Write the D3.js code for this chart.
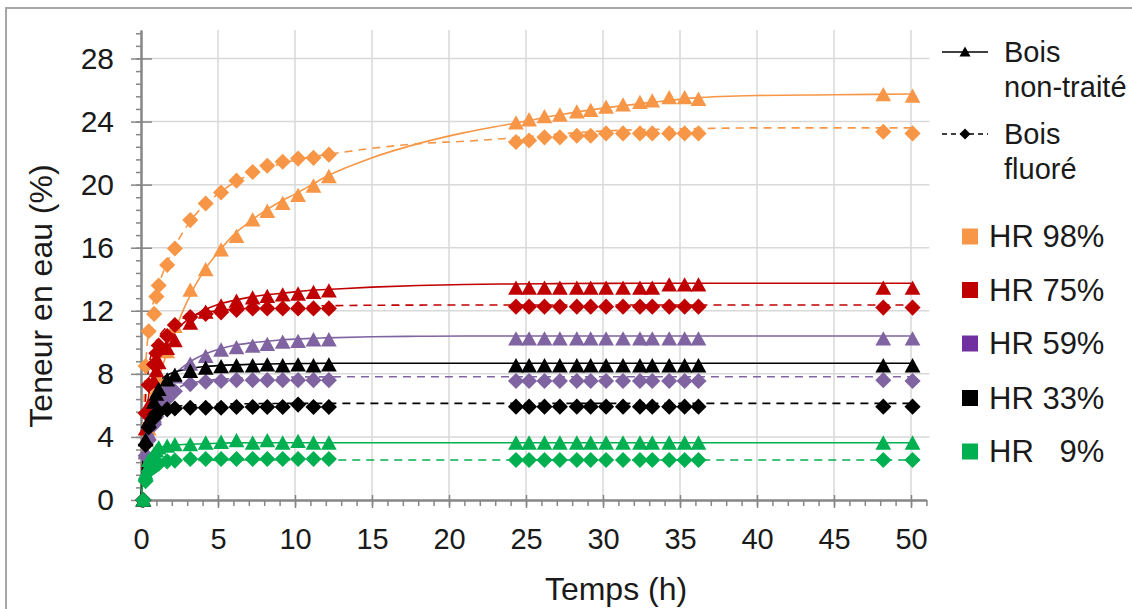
<!DOCTYPE html>
<html><head><meta charset="utf-8">
<script src="https://cdn.jsdelivr.net/npm/d3@7/dist/d3.min.js"></script>
<style>
html,body{margin:0;padding:0;background:#fff;}
svg{display:block;font-family:"Liberation Sans",Arial,sans-serif;}
</style></head>
<body><svg id="chart" width="1132" height="609"></svg>
<script>
// ---------- DATA ----------
const times = [0.15, 0.3, 0.5, 0.85, 1.0, 1.15, 1.7, 2.2, 3.2, 4.2, 5.2, 6.2, 7.25, 8.2, 9.2, 10.2, 11.2, 12.2,
  24.35, 25.2, 26.2, 27.2, 28.3, 29.2, 30.2, 31.3, 32.4, 33.2, 34.3, 35.3, 36.2, 48.2, 50.1];

const nt98 = [0, 3.0, 4.5, 6.3, 7.0, 7.6, 9.4, 11.0, 13.3, 14.6, 15.85, 16.7, 17.75, 18.3, 18.8, 19.3, 19.9, 20.5,
  23.9, 24.1, 24.3, 24.4, 24.6, 24.7, 24.9, 25.05, 25.2, 25.3, 25.5, 25.5, 25.4, 25.7, 25.6];
const f98 = [0, 8.5, 10.7, 11.8, 12.9, 13.6, 14.9, 15.95, 17.75, 18.8, 19.5, 20.25, 20.8, 21.2, 21.45, 21.65, 21.7, 21.9,
  22.7, 22.8, 23.0, 23.0, 23.1, 23.1, 23.25, 23.25, 23.25, 23.25, 23.25, 23.25, 23.25, 23.35, 23.25];
const nt75 = [0, 4.5, 6.0, 7.5, 8.2, 8.7, 9.6, 10.1, 11.2, 11.9, 12.3, 12.6, 12.8, 12.9, 13.0, 13.05, 13.15, 13.25,
  13.42, 13.42, 13.42, 13.42, 13.42, 13.42, 13.42, 13.42, 13.42, 13.42, 13.63, 13.63, 13.63, 13.42, 13.42];
const f75 = [0, 5.5, 7.3, 8.6, 9.3, 9.8, 10.4, 11.1, 11.6, 11.8, 11.9, 12.05, 12.15, 12.15, 12.15, 12.15, 12.15, 12.15,
  12.26, 12.26, 12.26, 12.26, 12.26, 12.26, 12.26, 12.26, 12.26, 12.26, 12.26, 12.26, 12.26, 12.2, 12.2];
const nt59 = [0, 3.0, 4.2, 5.3, 5.8, 6.3, 7.2, 7.8, 8.6, 9.1, 9.5, 9.65, 9.75, 9.85, 10.0, 10.05, 10.15, 10.15,
  10.2, 10.2, 10.2, 10.2, 10.2, 10.2, 10.2, 10.2, 10.2, 10.2, 10.2, 10.2, 10.2, 10.2, 10.2];
const f59 = [0, 2.8, 3.8, 4.8, 5.3, 5.6, 6.4, 6.9, 7.35, 7.5, 7.55, 7.6, 7.6, 7.6, 7.6, 7.6, 7.6, 7.6,
  7.55, 7.55, 7.55, 7.55, 7.55, 7.55, 7.55, 7.55, 7.55, 7.55, 7.55, 7.55, 7.55, 7.6, 7.55];
const nt33 = [0, 3.8, 5.0, 6.2, 6.7, 7.0, 7.6, 7.9, 8.15, 8.35, 8.45, 8.5, 8.5, 8.55, 8.5, 8.55, 8.5, 8.55,
  8.5, 8.5, 8.5, 8.5, 8.5, 8.5, 8.5, 8.5, 8.5, 8.5, 8.5, 8.5, 8.5, 8.5, 8.5];
const f33 = [0, 3.5, 4.6, 5.2, 5.5, 5.6, 5.75, 5.8, 5.85, 5.85, 5.85, 5.9, 5.9, 5.9, 5.9, 6.05, 5.9, 5.9,
  5.92, 5.92, 5.92, 5.92, 5.92, 5.92, 5.92, 5.92, 5.92, 5.92, 5.92, 5.92, 5.92, 5.92, 5.92];
const nt9 = [0, 1.7, 2.5, 2.9, 3.1, 3.3, 3.4, 3.5, 3.5, 3.6, 3.65, 3.75, 3.6, 3.75, 3.6, 3.7, 3.6, 3.6,
  3.6, 3.6, 3.6, 3.6, 3.6, 3.6, 3.6, 3.6, 3.6, 3.6, 3.6, 3.6, 3.6, 3.6, 3.6];
const f9 = [0, 1.2, 1.8, 2.1, 2.2, 2.3, 2.45, 2.5, 2.6, 2.6, 2.6, 2.6, 2.6, 2.6, 2.6, 2.6, 2.6, 2.6,
  2.54, 2.54, 2.54, 2.54, 2.54, 2.54, 2.54, 2.54, 2.54, 2.54, 2.54, 2.54, 2.54, 2.54, 2.54];

// fitted model curves
const fitTimes = [0, 0.15, 0.3, 0.5, 0.75, 1, 1.5, 2, 3, 4, 5, 6, 7, 8, 9, 10, 11, 12, 15, 18, 21, 24, 27, 30, 33, 36, 40, 45, 50];
const fitNt98 = [0, 1.5, 3.0, 4.5, 6.0, 7.2, 8.8, 10.2, 12.6, 14.4, 15.7, 16.8, 17.6, 18.3, 18.9, 19.4, 19.95, 20.5, 21.7, 22.6, 23.3, 23.85, 24.4, 24.85, 25.2, 25.5, 25.65, 25.7, 25.75];
const fitF98 = [0, 5.0, 8.5, 10.8, 12.3, 13.2, 14.6, 15.7, 17.4, 18.6, 19.4, 20.1, 20.6, 21.0, 21.3, 21.55, 21.75, 21.9, 22.3, 22.6, 22.75, 22.95, 23.2, 23.4, 23.5, 23.55, 23.6, 23.6, 23.6];
const fitNt75 = [0, 2.5, 4.8, 6.6, 7.9, 8.7, 9.8, 10.5, 11.4, 12.0, 12.4, 12.65, 12.85, 13.0, 13.1, 13.2, 13.3, 13.35, 13.5, 13.6, 13.67, 13.7, 13.72, 13.74, 13.75, 13.75, 13.75, 13.75, 13.75];
const fitF75 = [0, 3.5, 6.5, 8.4, 9.5, 10.1, 10.8, 11.2, 11.6, 11.85, 12.0, 12.1, 12.15, 12.2, 12.25, 12.28, 12.3, 12.32, 12.35, 12.36, 12.37, 12.37, 12.37, 12.37, 12.37, 12.37, 12.37, 12.37, 12.37];
const fitNt59 = [0, 2.0, 3.6, 4.8, 5.7, 6.3, 7.2, 7.8, 8.65, 9.2, 9.55, 9.8, 9.95, 10.05, 10.15, 10.2, 10.25, 10.28, 10.35, 10.38, 10.4, 10.4, 10.4, 10.4, 10.4, 10.4, 10.4, 10.4, 10.4];
const fitF59 = [0, 2.0, 3.3, 4.4, 5.2, 5.8, 6.5, 6.9, 7.35, 7.55, 7.65, 7.7, 7.75, 7.78, 7.8, 7.8, 7.81, 7.81, 7.82, 7.82, 7.82, 7.82, 7.82, 7.82, 7.82, 7.82, 7.82, 7.82, 7.82];
const fitNt33 = [0, 3.0, 4.8, 6.0, 6.8, 7.3, 7.8, 8.05, 8.3, 8.45, 8.52, 8.57, 8.6, 8.62, 8.64, 8.65, 8.66, 8.67, 8.67, 8.67, 8.67, 8.67, 8.67, 8.67, 8.67, 8.67, 8.67, 8.67, 8.67];
const fitF33 = [0, 2.8, 4.3, 5.1, 5.5, 5.7, 5.85, 5.92, 6.0, 6.05, 6.08, 6.1, 6.1, 6.12, 6.12, 6.13, 6.13, 6.13, 6.13, 6.13, 6.13, 6.13, 6.13, 6.13, 6.13, 6.13, 6.13, 6.13, 6.13];
const fitNt9 = [0, 1.5, 2.3, 2.8, 3.1, 3.25, 3.4, 3.47, 3.53, 3.57, 3.6, 3.62, 3.63, 3.63, 3.63, 3.63, 3.63, 3.63, 3.63, 3.63, 3.63, 3.63, 3.63, 3.63, 3.63, 3.63, 3.63, 3.63, 3.63];
const fitF9 = [0, 1.0, 1.6, 2.0, 2.2, 2.3, 2.4, 2.45, 2.5, 2.52, 2.53, 2.54, 2.54, 2.54, 2.54, 2.54, 2.54, 2.54, 2.54, 2.54, 2.54, 2.54, 2.54, 2.54, 2.54, 2.54, 2.54, 2.54, 2.54];

const hrLabels = ["HR 98%", "HR 75%", "HR 59%", "HR 33%", "HR\u00A0\u00A0\u00A09%"];
const markerColors = ["#F79646", "#C00000", "#8064A2", "#000000", "#00B050"];
const legendColors = ["#F79646", "#C00000", "#7030A0", "#000000", "#00B050"];
const typeLabels = [["Bois", "non-traité"], ["Bois", "fluoré"]];
const yTicks = [0, 4, 8, 12, 16, 20, 24, 28];
const xTicks = [0, 5, 10, 15, 20, 25, 30, 35, 40, 45, 50];

const untreated = [nt98, nt75, nt59, nt33, nt9];
const fluor = [f98, f75, f59, f33, f9];
const fitUntreated = [fitNt98, fitNt75, fitNt59, fitNt33, fitNt9];
const fitFluor = [fitF98, fitF75, fitF59, fitF33, fitF9];

// ---------- CHART ----------
const svg = d3.select("#chart");
svg.append("rect").attr("width", 1132).attr("height", 609).attr("fill", "#fff");
svg.append("rect").attr("x", 6).attr("y", 8).attr("width", 1140).attr("height", 620)
  .attr("fill", "none").attr("stroke", "#a6a6a6").attr("stroke-width", 2);

const x = d3.scaleLinear().domain([0, 51]).range([141, 926.4]);
const y = d3.scaleLinear().domain([0, 29.8]).range([500, 30.1]);

const axisColor = "#868686", gridColor = "#d9d9d9", textColor = "#1a1a1a";
const FONT = "'Liberation Sans',Arial,sans-serif";

// grid
const grid = svg.append("g");
grid.selectAll("line.v").data(xTicks.filter(d => d > 0)).join("line")
  .attr("x1", d => x(d)).attr("x2", d => x(d)).attr("y1", y(29.8)).attr("y2", y(0))
  .attr("stroke", gridColor).attr("stroke-width", 1.5);
grid.selectAll("line.h").data(yTicks.filter(d => d > 0)).join("line")
  .attr("x1", x(0)).attr("x2", x(51) + 3).attr("y1", d => y(d)).attr("y2", d => y(d))
  .attr("stroke", gridColor).attr("stroke-width", 1.5);

function styleAxis(g) {
  g.selectAll("path, line").attr("stroke", axisColor).attr("stroke-width", 1.5);
  g.select(".domain").attr("stroke-width", 2);
}

// Y axis
const yMinor = d3.range(0, 29.81, 0.8);
svg.append("g").attr("transform", `translate(${x(0)},0)`)
  .call(d3.axisLeft(y).tickValues(yMinor).tickSize(5).tickFormat("").tickSizeOuter(0))
  .call(styleAxis);
svg.append("g").attr("transform", `translate(${x(0)},0)`)
  .call(d3.axisRight(y).tickValues(yTicks).tickSize(11).tickFormat("").tickSizeOuter(0))
  .call(styleAxis).call(g => g.select(".domain").remove());
const yAx = svg.append("g").attr("transform", `translate(${x(0)},0)`)
  .call(d3.axisLeft(y).tickValues(yTicks).tickSize(10).tickPadding(17).tickSizeOuter(0))
  .call(styleAxis);
yAx.selectAll("text").attr("font-size", 30).attr("fill", textColor).attr("font-family", FONT);

// X axis
const xMinor = d3.range(0, 51.01, 1);
svg.append("g").attr("transform", `translate(0,${y(0)})`)
  .call(d3.axisBottom(x).tickValues(xMinor).tickSize(6).tickFormat("").tickSizeOuter(0))
  .call(styleAxis);
svg.append("g").attr("transform", `translate(0,${y(0)})`)
  .call(d3.axisTop(x).tickValues(xTicks).tickSize(5).tickFormat("").tickSizeOuter(0))
  .call(styleAxis).call(g => g.select(".domain").remove());
const xAx = svg.append("g").attr("transform", `translate(0,${y(0)})`)
  .call(d3.axisBottom(x).tickValues(xTicks).tickSize(8).tickPadding(20).tickSizeOuter(0))
  .call(styleAxis);
xAx.selectAll("text").attr("font-size", 29).attr("fill", textColor).attr("font-family", FONT);

// axis titles
svg.append("text").attr("x", 616).attr("y", 600).attr("text-anchor", "middle")
  .attr("font-size", 32).attr("fill", textColor).text("Temps (h)");
svg.append("text").attr("transform", "translate(52,296) rotate(-90)").attr("text-anchor", "middle")
  .attr("font-size", 32).attr("fill", textColor).text("Teneur en eau (%)");

// symbols
const triType = { draw(ctx, size) { const s = Math.sqrt(size); ctx.moveTo(0, -s * 0.55); ctx.lineTo(s * 0.55, s * 0.45); ctx.lineTo(-s * 0.55, s * 0.45); ctx.closePath(); } };
const diaType = { draw(ctx, size) { const s = Math.sqrt(size) * 0.55; ctx.moveTo(0, -s); ctx.lineTo(s, 0); ctx.lineTo(0, s); ctx.lineTo(-s, 0); ctx.closePath(); } };
const triSym = d3.symbol(triType, 205);
const diaSym = d3.symbol(diaType, 215);

const fitLine = d3.line().x(d => x(d[0])).y(d => y(d[1])).curve(d3.curveMonotoneX);
const plot = svg.append("g");

// lines
for (let i = 0; i < 5; i++) {
  plot.append("path").datum(fitTimes.map((t, j) => [t, fitUntreated[i][j]]))
    .attr("d", fitLine).attr("fill", "none").attr("stroke", markerColors[i]).attr("stroke-width", 1.6);
  plot.append("path").datum(fitTimes.map((t, j) => [t, fitFluor[i][j]]))
    .attr("d", fitLine).attr("fill", "none").attr("stroke", markerColors[i]).attr("stroke-width", 1.6)
    .attr("stroke-dasharray", "8,6");
}
// markers
for (let i = 0; i < 5; i++) {
  plot.append("g").selectAll("path").data(times.map((t, j) => [t, fluor[i][j]])).join("path")
    .attr("d", diaSym).attr("transform", d => `translate(${x(d[0])},${y(d[1])})`)
    .attr("fill", markerColors[i]);
  plot.append("g").selectAll("path").data(times.map((t, j) => [t, untreated[i][j]])).join("path")
    .attr("d", triSym).attr("transform", d => `translate(${x(d[0])},${y(d[1])})`)
    .attr("fill", markerColors[i]);
}

// legend
const lg = svg.append("g");
const legY = [52, 134];
lg.append("line").attr("x1", 942).attr("x2", 988).attr("y1", legY[0]).attr("y2", legY[0])
  .attr("stroke", "#000").attr("stroke-width", 1.6);
lg.append("path").attr("d", d3.symbol(triType, 100)).attr("transform", `translate(965,${legY[0]})`).attr("fill", "#000");
lg.append("line").attr("x1", 942).attr("x2", 988).attr("y1", legY[1]).attr("y2", legY[1])
  .attr("stroke", "#000").attr("stroke-width", 1.6).attr("stroke-dasharray", "5,4");
lg.append("path").attr("d", d3.symbol(diaType, 100)).attr("transform", `translate(965,${legY[1]})`).attr("fill", "#000");
typeLabels.forEach((lines, k) => {
  lines.forEach((s, m) => {
    lg.append("text").attr("x", 1004).attr("y", legY[k] + m * 35).attr("dy", "0.35em")
      .attr("font-size", 29).attr("fill", textColor).text(s);
  });
});
const hrY = [236.5, 290, 343.5, 398, 451.5];
hrLabels.forEach((s, i) => {
  lg.append("rect").attr("x", 962).attr("y", hrY[i] - 8).attr("width", 16).attr("height", 16).attr("fill", legendColors[i]);
  lg.append("text").attr("x", 989).attr("y", hrY[i]).attr("dy", "0.35em")
    .attr("font-size", 31).attr("fill", textColor).text(s);
});
</script></body></html>
